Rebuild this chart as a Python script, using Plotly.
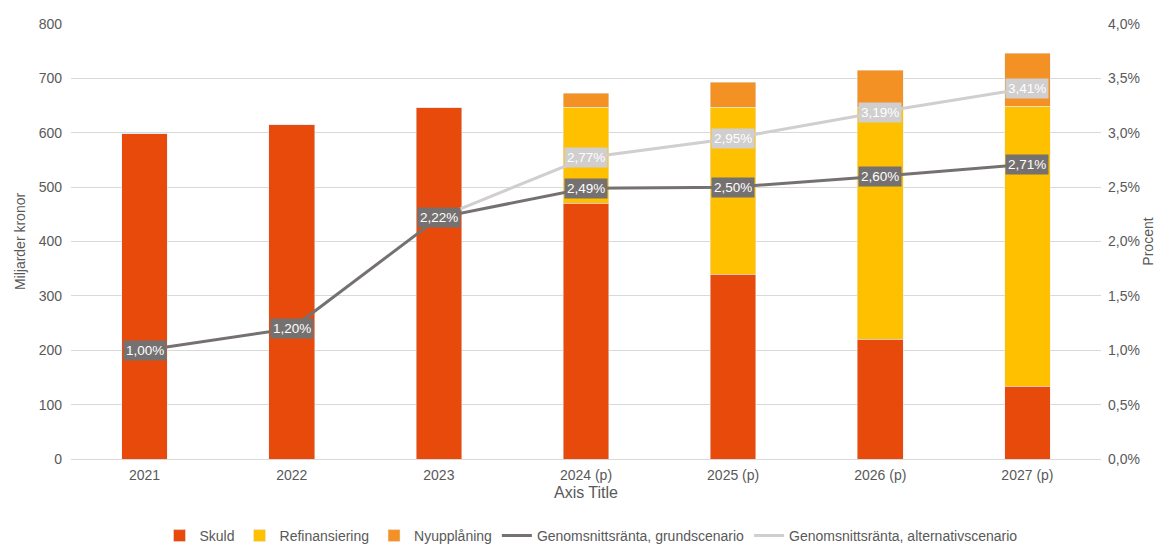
import plotly.graph_objects as go

categories = ["2021", "2022", "2023", "2024 (p)", "2025 (p)", "2026 (p)", "2027 (p)"]
skuld = [598, 615, 647, 470, 340, 220, 134]
refinansiering = [0, 0, 0, 177, 307, 427, 515]
nyupplaning = [0, 0, 0, 26, 46, 68, 97]
ranta_grund = [1.00, 1.20, 2.22, 2.49, 2.50, 2.60, 2.71]
ranta_alt = [None, None, 2.22, 2.77, 2.95, 3.19, 3.41]

C_SKULD = "#E84A0C"
C_REFI = "#FFC000"
C_NY = "#F39125"
C_GRUND = "#767171"
C_ALT = "#D0CECE"
C_TEXT = "#595959"
FONT = "Liberation Sans, Arial"

fig = go.Figure()
fig.add_bar(x=categories, y=skuld, name="Skuld", marker_color=C_SKULD)
fig.add_bar(x=categories, y=refinansiering, name="Refinansiering", marker_color=C_REFI)
fig.add_bar(x=categories, y=nyupplaning, name="Nyupplåning", marker_color=C_NY)
fig.add_scatter(x=categories, y=[v / 100 for v in ranta_grund], name="Genomsnittsränta, grundscenario",
                mode="lines", line=dict(color=C_GRUND, width=3), yaxis="y2")
fig.add_scatter(x=categories, y=[None if v is None else v / 100 for v in ranta_alt],
                name="Genomsnittsränta, alternativscenario",
                mode="lines", line=dict(color=C_ALT, width=3), yaxis="y2")

def fmt(v):
    return f"{v:.2f}".replace(".", ",") + "%"

annotations = []
for i, v in enumerate(ranta_alt):
    if v is None or i == 2:
        continue
    annotations.append(dict(x=i, y=v / 100, xref="x", yref="y2", text=fmt(v), showarrow=False,
                            font=dict(color="white", size=13.5, family=FONT),
                            bgcolor=C_ALT, borderpad=2))
for i, v in enumerate(ranta_grund):
    annotations.append(dict(x=i, y=v / 100, xref="x", yref="y2", text=fmt(v), showarrow=False,
                            font=dict(color="white", size=13.5, family=FONT),
                            bgcolor=C_GRUND, borderpad=2))

fig.update_layout(
    width=1166, height=544,
    margin=dict(l=63, r=73, t=16, b=93, autoexpand=False),
    paper_bgcolor="white", plot_bgcolor="white",
    barmode="stack", bargap=0.69,
    separators=", ",
    font=dict(family=FONT, size=14, color=C_TEXT),
    xaxis=dict(type="category", range=[-0.5, len(categories) - 0.5],
               title=dict(text="Axis Title", font=dict(size=16, color=C_TEXT), standoff=5),
               showgrid=False, showline=True, linecolor="#d9d9d9", linewidth=1,
               tickfont=dict(size=14, color=C_TEXT), ticks="", ticklabelstandoff=3),
    yaxis=dict(title=dict(text="Miljarder kronor", font=dict(size=14, color=C_TEXT), standoff=9),
               range=[0, 800], dtick=100, showgrid=True, gridcolor="#d9d9d9", gridwidth=1,
               zeroline=False, tickfont=dict(size=14, color=C_TEXT), ticklabelstandoff=8),
    yaxis2=dict(title=dict(text="Procent", font=dict(size=14, color=C_TEXT), standoff=2),
                overlaying="y", side="right", range=[0, 0.04], dtick=0.005, tickformat=".1%",
                showgrid=False, zeroline=False, tickfont=dict(size=14, color=C_TEXT),
                ticklabelstandoff=6),
    legend=dict(orientation="h", x=0.5, xanchor="center", xref="container",
                y=0, yanchor="bottom", yref="container",
                font=dict(size=14, color=C_TEXT), traceorder="normal"),
    annotations=annotations,
)

fig.write_html("out.html")
